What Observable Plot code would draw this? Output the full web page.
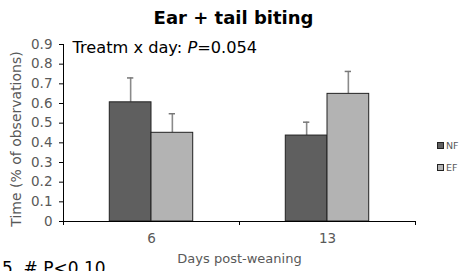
<!DOCTYPE html>
<html><head><meta charset="utf-8">
<script src="https://cdn.jsdelivr.net/npm/d3@7"></script>
<script src="https://cdn.jsdelivr.net/npm/@observablehq/plot@0.6"></script>
<style>
body{margin:0;background:#fff;}
#c{position:relative;width:459px;height:271px;overflow:hidden;font-family:"DejaVu Sans",Verdana,sans-serif;}
.lg{position:absolute;left:437px;font-size:9.5px;color:#595959;display:flex;align-items:center;line-height:1;}
.lg span.sw{display:inline-block;width:5px;height:5px;border:1px solid #222;margin-right:2px;}
#foot{position:absolute;left:2px;top:258px;font-size:17px;line-height:20px;color:#000;white-space:nowrap;}
</style>
</head><body><div id="c"></div>
<script>
const days = ["6", "13"];
const treatments = ["NF", "EF"];
const meanNF = [0.606, 0.437];
const meanEF = [0.451, 0.649];
const seNF = [0.124, 0.068];
const seEF = [0.097, 0.114];
const colors = ["#5f5f5f", "#b3b3b3"];
const yTicks = [0, 0.1, 0.2, 0.3, 0.4, 0.5, 0.6, 0.7, 0.8, 0.9];
const title = "Ear + tail biting";
const annotation = "Treatm x day: P=0.054";
const yLabel = "Time (% of observations)";
const xLabel = "Days post-weaning";
const footnote = "5, # P<0.10";

const barW = 0.237; // fraction of a day's band occupied by one bar
const rows = [];
days.forEach((d, i) => {
  [[meanNF, seNF], [meanEF, seEF]].forEach(([m, s], j) => {
    const x1 = i + 0.5 + (j - 1) * barW;
    rows.push({day: d, treatment: treatments[j], mean: m[i], se: s[i], x1, x2: x1 + barW, xc: x1 + barW / 2});
  });
});
const capHalf = 0.018;

const chart = Plot.plot({
  width: 459,
  height: 271,
  marginLeft: 63,
  marginRight: 44,
  marginTop: 44,
  marginBottom: 50,
  style: {fontFamily: "DejaVu Sans, Verdana, sans-serif", color: "#000", background: "#fff", overflow: "visible"},
  x: {type: "linear", domain: [0, days.length], axis: null, label: null},
  y: {domain: [0, 0.9], axis: null, label: null},
  color: {domain: treatments, range: colors},
  marks: [
    Plot.ruleX(rows, {x: "xc", y1: "mean", y2: d => d.mean + d.se, stroke: "#8a8a8a", strokeWidth: 1.6}),
    Plot.ruleY(rows, {y: d => d.mean + d.se, x1: d => d.xc - capHalf, x2: d => d.xc + capHalf, stroke: "#777", strokeWidth: 1.5}),
    Plot.rectY(rows, {x1: "x1", x2: "x2", y1: 0, y2: "mean", fill: "treatment", stroke: "#222", strokeWidth: 1}),
    Plot.ruleY([0], {stroke: "#000"}),
    Plot.ruleX([0], {stroke: "#000"}),
    Plot.axisY(yTicks, {label: null, tickSize: 4, tickPadding: 7, fontSize: 13.5, fill: "#595959", stroke: "#000", tickFormat: d => d === 0 ? "0" : d.toFixed(1)}),
    Plot.axisX(d3.range(days.length + 1), {label: null, tickSize: 4, stroke: "#000", tickFormat: () => ""}),
    Plot.axisX(days.map((d, i) => i + 0.5), {label: null, tickSize: 0, tickPadding: 12, fontSize: 13.5, fill: "#595959", tickFormat: v => days[Math.floor(v)]}),
    Plot.text([xLabel], {frameAnchor: "bottom", dy: 37, fontSize: 13, fill: "#595959", lineAnchor: "middle"}),
    Plot.text([yLabel], {frameAnchor: "left", dx: -47, dy: 6, rotate: -90, fontSize: 14, fill: "#595959", textAnchor: "middle", lineAnchor: "middle"}),
    Plot.text([title], {frameAnchor: "top", dx: -6, dy: -26, fontSize: 18, fontWeight: "bold", fill: "#000", lineAnchor: "middle"}),
    Plot.text([annotation], {frameAnchor: "top-left", dx: 9, dy: 3.5, fontSize: 16.2, fill: "#000", textAnchor: "start", lineAnchor: "middle"})
  ]
});

// italicise the P in the annotation
d3.select(chart).selectAll("text").each(function() {
  const t = d3.select(this);
  if (t.text() === annotation) {
    const [a, b] = annotation.split("P=");
    t.text(null);
    t.append("tspan").text(a);
    t.append("tspan").attr("font-style", "italic").text("P");
    t.append("tspan").text("=" + b);
  }
});

const c = document.getElementById("c");
c.appendChild(chart);
chart.style.position = "absolute";
chart.style.left = "0"; chart.style.top = "0";
const lgTops = [141, 163];
treatments.forEach((t, j) => {
  const el = document.createElement("div");
  el.className = "lg";
  el.style.top = lgTops[j] + "px";
  el.innerHTML = `<span class="sw" style="background:${colors[j]}"></span>${t}`;
  c.appendChild(el);
});
const f = document.createElement("div");
f.id = "foot";
f.textContent = footnote;
c.appendChild(f);
</script>
</body></html>
